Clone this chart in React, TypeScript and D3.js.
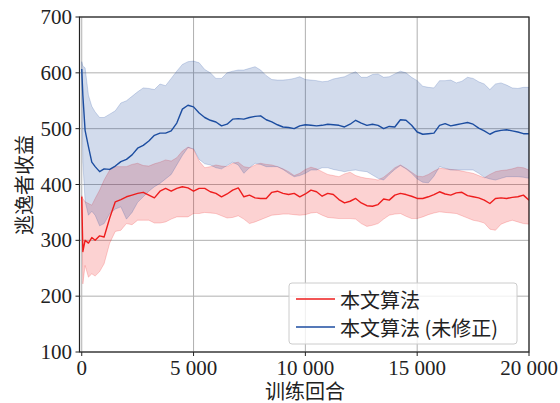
import React from "react";
import * as d3 from "d3";

const episodes = [0, 50, 150, 300, 450, 600, 800, 1000, 1250, 1500, 1750, 2000, 2250, 2500, 2750, 3000, 3250, 3500, 3750, 4000, 4250, 4500, 4750, 5000, 5250, 5500, 5750, 6000, 6250, 6500, 6750, 7000, 7250, 7500, 7750, 8000, 8250, 8500, 8750, 9000, 9250, 9500, 9750, 10000, 10250, 10500, 10750, 11000, 11250, 11500, 11750, 12000, 12250, 12500, 12750, 13000, 13250, 13500, 13750, 14000, 14250, 14500, 14750, 15000, 15250, 15500, 15750, 16000, 16250, 16500, 16750, 17000, 17250, 17500, 17750, 18000, 18250, 18500, 18750, 19000, 19250, 19500, 19750, 20000];

const blueMean = [607, 560, 497, 468, 440, 432, 423, 428, 427, 433, 441, 445, 453, 465, 470, 478, 488, 492, 492, 496, 510, 535, 542, 539, 528, 520, 515, 512, 505, 508, 517, 518, 517, 520, 522, 523, 516, 512, 507, 503, 502, 500, 505, 507, 506, 505, 506, 508, 507, 506, 503, 508, 515, 510, 506, 508, 506, 500, 504, 503, 516, 515, 506, 494, 490, 491, 492, 506, 509, 505, 507, 509, 511, 508, 501, 496, 490, 495, 497, 498, 496, 494, 491, 491];
const blueUpper = [620, 612, 609, 560, 540, 530, 520, 520, 526, 532, 546, 550, 558, 566, 573, 572, 570, 580, 577, 590, 603, 615, 620, 621, 618, 606, 600, 590, 590, 600, 603, 605, 605, 608, 611, 605, 595, 588, 587, 587, 588, 590, 593, 588, 587, 586, 584, 585, 589, 591, 593, 598, 602, 592, 592, 597, 598, 592, 593, 598, 603, 600, 592, 586, 576, 574, 573, 586, 586, 587, 582, 585, 592, 590, 584, 580, 570, 580, 582, 578, 573, 572, 574, 574];
const blueLower = [595, 440, 370, 345, 352, 345, 326, 330, 348, 356, 360, 338, 350, 368, 378, 388, 396, 402, 410, 418, 435, 452, 466, 464, 445, 437, 435, 430, 428, 434, 440, 435, 420, 430, 438, 436, 432, 432, 432, 427, 420, 414, 416, 420, 426, 426, 430, 430, 427, 425, 423, 425, 426, 424, 423, 417, 411, 408, 418, 427, 434, 428, 420, 410, 404, 403, 415, 432, 429, 426, 426, 426, 426, 426, 420, 413, 410, 408, 411, 414, 414, 414, 413, 411];

const redMean = [378, 280, 300, 295, 305, 300, 308, 306, 340, 369, 373, 378, 381, 384, 386, 381, 376, 388, 393, 388, 393, 396, 394, 388, 393, 393, 387, 384, 378, 383, 390, 394, 378, 381, 376, 375, 375, 386, 388, 384, 382, 384, 378, 383, 390, 387, 379, 384, 382, 373, 367, 370, 375, 367, 362, 361, 364, 374, 372, 381, 384, 382, 379, 375, 375, 378, 382, 387, 383, 381, 385, 386, 380, 378, 376, 372, 366, 375, 376, 375, 377, 378, 381, 372];
const redUpper = [380, 375, 369, 366, 363, 375, 390, 408, 426, 432, 432, 432, 436, 438, 434, 433, 437, 440, 444, 442, 448, 460, 467, 463, 442, 430, 432, 435, 433, 432, 438, 440, 432, 430, 435, 438, 436, 435, 432, 428, 423, 416, 420, 427, 431, 428, 423, 418, 416, 414, 419, 422, 416, 413, 411, 410, 408, 413, 421, 430, 435, 429, 422, 415, 414, 418, 424, 429, 428, 427, 426, 424, 422, 420, 416, 412, 418, 423, 425, 426, 428, 431, 430, 426];
const redLower = [375, 222, 255, 234, 240, 236, 244, 258, 295, 316, 318, 330, 328, 336, 336, 336, 331, 331, 333, 338, 342, 342, 342, 348, 348, 350, 349, 348, 344, 340, 341, 344, 338, 330, 333, 337, 341, 345, 346, 347, 347, 346, 345, 346, 349, 350, 345, 341, 340, 339, 339, 339, 338, 330, 325, 327, 330, 338, 345, 347, 348, 343, 339, 339, 342, 346, 349, 351, 350, 349, 348, 344, 340, 336, 334, 331, 320, 318, 329, 333, 336, 333, 330, 329];

const xTicks = [0, 5000, 10000, 15000, 20000];
const yTicks = [100, 200, 300, 400, 500, 600, 700];
const seriesNames = ["本文算法", "本文算法 (未修正)"];
const xLabel = "训练回合";
const yLabel = "逃逸者收益";

const RED = "#ee1d1d";
const BLUE = "#1c4da0";
const NUM_FONT = "'Liberation Serif', 'DejaVu Serif', serif";
const CJK_FONT = "'Noto Sans CJK SC', 'Liberation Serif', serif";
const LABEL_FONT = "'Liberation Serif', 'Noto Sans CJK SC', serif";

function fmt(v: number) {
  const s = String(v);
  if (v >= 1000) return s.slice(0, s.length - 3) + " " + s.slice(-3);
  return s;
}

export default function App() {
  const W = 560, H = 403;
  const x = d3.scaleLinear().domain([-100, 20000]).range([79.5, 529]);
  const y = d3.scaleLinear().domain([100, 700]).range([352, 17]);

  const idx = episodes.map((_, i) => i);
  const mkLine = (arr: number[]) =>
    d3.line<number>().x((i) => x(episodes[i])).y((i) => y(arr[i]))(idx) as string;
  const mkArea = (lo: number[], hi: number[]) =>
    d3.area<number>().x((i) => x(episodes[i])).y0((i) => y(lo[i])).y1((i) => y(hi[i]))(idx) as string;

  const series = [
    { color: RED, mean: redMean, lo: redLower, hi: redUpper },
    { color: BLUE, mean: blueMean, lo: blueLower, hi: blueUpper },
  ];

  const [x0, x1] = x.range();
  const [yb, yt] = y.range();

  return (
    <svg width={W} height={H} style={{ position: "absolute", left: 0, top: 0, background: "#fff" }}>
      <defs>
        <clipPath id="plot">
          <rect x={x0} y={yt} width={x1 - x0} height={yb - yt} />
        </clipPath>
      </defs>
      <g stroke="#b0b0b0" strokeWidth={1}>
        {xTicks.map((t) => (
          <line key={"gx" + t} x1={x(t)} x2={x(t)} y1={yt} y2={yb} />
        ))}
        {yTicks.map((t) => (
          <line key={"gy" + t} x1={x0} x2={x1} y1={y(t)} y2={y(t)} />
        ))}
      </g>
      <g clipPath="url(#plot)">
        {series.map((s, k) => (
          <path key={"a" + k} d={mkArea(s.lo, s.hi)} fill={s.color} fillOpacity={0.2} stroke={s.color} strokeOpacity={0.2} strokeWidth={1} />
        ))}
        {series.map((s, k) => (
          <path key={"l" + k} d={mkLine(s.mean)} fill="none" stroke={s.color} strokeWidth={1.4} strokeLinejoin="round" />
        ))}
      </g>
      <rect x={x0} y={yt} width={x1 - x0} height={yb - yt} fill="none" stroke="#222" strokeWidth={1.2} />
      <g stroke="#222" strokeWidth={1}>
        {xTicks.map((t) => (
          <line key={"tx" + t} x1={x(t)} x2={x(t)} y1={yb} y2={yb + 4} />
        ))}
        {yTicks.map((t) => (
          <line key={"ty" + t} x1={x0} x2={x0 - 4} y1={y(t)} y2={y(t)} />
        ))}
      </g>
      <g fontFamily={NUM_FONT} fontSize={21} fill="#222">
        {xTicks.map((t) => (
          <text key={"lx" + t} x={x(t)} y={375} textAnchor="middle">{fmt(t)}</text>
        ))}
        {yTicks.map((t) => (
          <text key={"ly" + t} x={72} y={y(t) + 7} textAnchor="end">{fmt(t)}</text>
        ))}
      </g>
      <text x={305} y={399} fontFamily={LABEL_FONT} fontSize={20} textAnchor="middle" fill="#222">{xLabel}</text>
      <text transform="translate(23,185) rotate(-90)" fontFamily={CJK_FONT} fontSize={20} textAnchor="middle" dominantBaseline="central" fill="#222">{yLabel}</text>
      <rect x={289} y={283} width={228} height={61} rx={3} fill="#fff" fillOpacity={0.8} stroke="#cccccc" strokeWidth={1} />
      {series.map((s, k) => (
        <g key={"lg" + k}>
          <line x1={296} x2={335} y1={299 + k * 28} y2={299 + k * 28} stroke={s.color} strokeWidth={1.4} />
          <text x={340} y={299 + k * 28} fontFamily={CJK_FONT} fontSize={20} dominantBaseline="central" fill="#222">{seriesNames[k]}</text>
        </g>
      ))}
    </svg>
  );
}
